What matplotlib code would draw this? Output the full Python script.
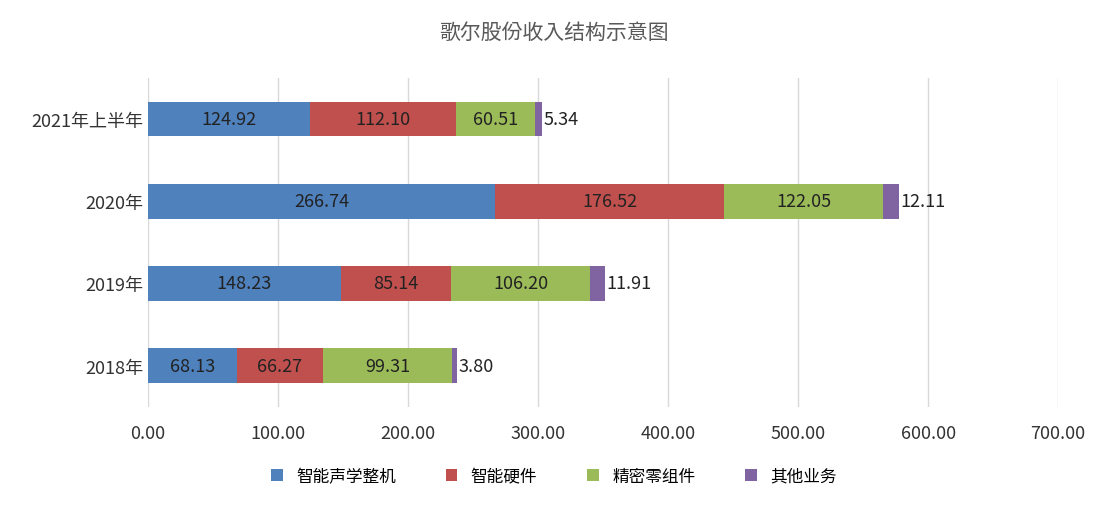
import matplotlib.pyplot as plt
from matplotlib import font_manager
import numpy as np

cjk = [f.name for f in font_manager.fontManager.ttflist if 'CJK' in f.name]
plt.rcParams['font.family'] = 'sans-serif'
plt.rcParams['font.sans-serif'] = ['Noto Sans CJK SC', 'Noto Sans CJK JP'] + cjk + ['DejaVu Sans']

categories = ['2021年上半年', '2020年', '2019年', '2018年']
series_names = ['智能声学整机', '智能硬件', '精密零组件', '其他业务']
acoustic = [124.92, 266.74, 148.23, 68.13]
hardware = [112.10, 176.52, 85.14, 66.27]
precision = [60.51, 122.05, 106.20, 99.31]
other = [5.34, 12.11, 11.91, 3.80]
colors = ['#4F81BD', '#C0504D', '#9BBB59', '#8064A2']

fig = plt.figure(figsize=(11.08, 5.06), dpi=100)
ax = fig.add_axes([0.1336, 0.194, 0.8214, 0.65])

y = np.arange(len(categories))
left = np.zeros(len(categories))
for i, (name, vals) in enumerate(zip(series_names, [acoustic, hardware, precision, other])):
    vals = np.array(vals)
    ax.barh(y, vals, left=left, height=0.42, color=colors[i], label=name, zorder=3)
    for yy, l, v in zip(y, left, vals):
        if i < 3:
            ax.text(l + v / 2, yy, f'{v:.2f}', ha='center', va='center',
                    fontsize=13, color='#222222', zorder=4)
        else:
            ax.text(l + v + 1, yy, f'{v:.2f}', ha='left', va='center',
                    fontsize=13, color='#222222', zorder=4)
    left += vals

ax.set_xlim(0, 700)
ax.set_ylim(3.5, -0.5)
ax.set_xticks(np.arange(0, 701, 100))
ax.set_xticklabels([f'{v:.2f}' for v in np.arange(0, 701, 100)])
ax.set_yticks(y)
ax.set_yticklabels(categories)
ax.tick_params(axis='both', length=0, labelsize=13, colors='#333333')
ax.tick_params(axis='x', pad=12)
ax.grid(axis='x', color='#d9d9d9', linewidth=1, zorder=0)
for s in ax.spines.values():
    s.set_visible(False)

fig.text(0.5, 0.935, '歌尔股份收入结构示意图', ha='center', va='center',
         fontsize=15, color='#595959')
fig.legend(loc='lower center', bbox_to_anchor=(0.5, 0.01), ncol=4, frameon=False,
           fontsize=12, handlelength=0.7, handleheight=0.7, columnspacing=3)

fig.savefig('out.png', dpi=100)
